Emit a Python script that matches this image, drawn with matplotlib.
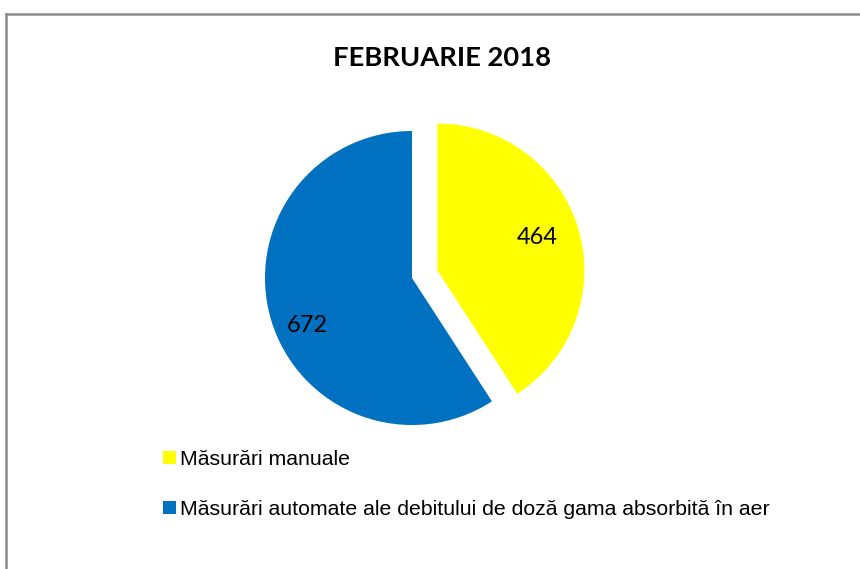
import matplotlib
matplotlib.use('Agg')
import matplotlib.pyplot as plt
from matplotlib.lines import Line2D

# data
labels = ['Măsurări manuale',
          'Măsurări automate ale debitului de doză gama absorbită în aer']
values = [464, 672]
colors = ['#FFFF00', '#0070C0']
explode = [0.18, 0.0]
total = sum(values)

W, H = 860, 569
fig = plt.figure(figsize=(W / 100, H / 100), dpi=100)
fig.patch.set_facecolor('white')

# axes covering the whole figure, 1 data unit = R pixels
R = 147.0
cx, cy = 412.0, 278.0   # pie centre in pixels (from top)
ax = fig.add_axes([0, 0, 1, 1])
wedges, texts, autotexts = ax.pie(
    values, colors=colors, explode=explode, startangle=90, counterclock=False,
    radius=1.0, autopct=lambda p: f'{round(p * total / 100):d}',
    pctdistance=0.74, wedgeprops=dict(linewidth=0),
    textprops=dict(fontsize=17, family='Lato', color='black'))
ax.set_xlim(-cx / R, (W - cx) / R)
ax.set_ylim(-(H - cy) / R, cy / R)
ax.set_aspect('auto')
ax.axis('off')

# data labels placed like Excel's best fit
label_px = [(537, 238), (307, 325)]
for t, (px, py) in zip(autotexts, label_px):
    t.set_position(((px - cx) / R, (cy - py) / R))

# title
fig.text(442 / W, 1 - 58 / H, 'FEBRUARIE 2018', fontsize=19.7, fontweight='bold',
         family='Lato', ha='center', va='center', color='black')

# legend
leg = ax.legend(wedges, labels, loc='upper left', bbox_to_anchor=(163 / W, 1 - 450 / H),
                bbox_transform=fig.transFigure, frameon=False,
                prop=dict(family='Liberation Sans', size=15.3),
                handlelength=0.6, handleheight=0.6, handletextpad=0.2,
                labelspacing=1.45, borderpad=0, borderaxespad=0)

# chart border (top and left visible)
fig.add_artist(Line2D([6 / W, 1.0], [1 - 14 / H, 1 - 14 / H], transform=fig.transFigure,
                      color='#8C8C8C', linewidth=1.8))
fig.add_artist(Line2D([6 / W, 6 / W], [0, 1 - 14 / H], transform=fig.transFigure,
                      color='#8C8C8C', linewidth=1.8))

fig.savefig('out.png', dpi=100, facecolor='white')
